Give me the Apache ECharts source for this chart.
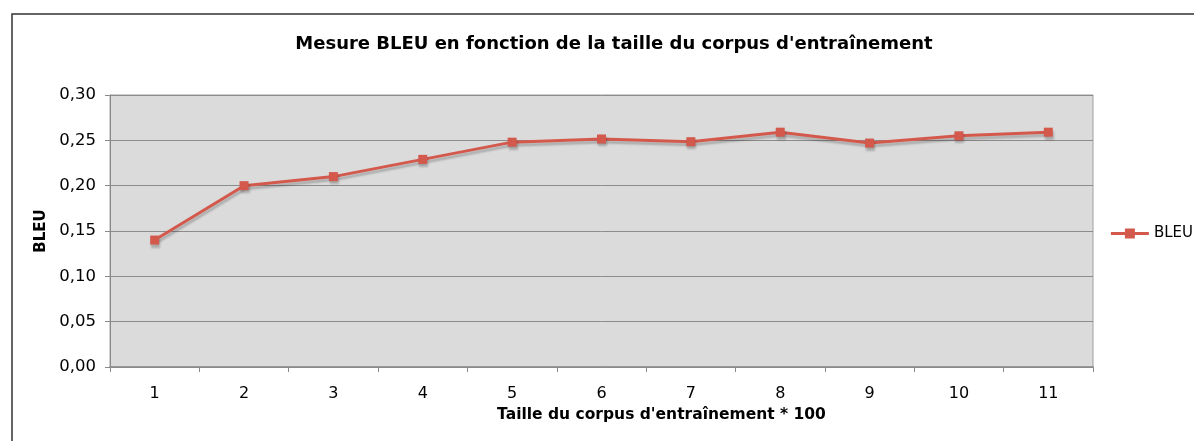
<!DOCTYPE html>
<html>
<head>
<meta charset="utf-8">
<script src="https://cdn.jsdelivr.net/npm/echarts@6/dist/echarts.min.js"></script>
<style>
  html, body { margin: 0; padding: 0; background: #ffffff; }
  #chart { width: 1194px; height: 441px; }
</style>
</head>
<body>
<div id="chart"></div>
<script>
// Corpus sizes (in hundreds) and the BLEU score measured for each
const categories = ['1', '2', '3', '4', '5', '6', '7', '8', '9', '10', '11'];
const bleuValues = [0.14, 0.20, 0.21, 0.229, 0.248, 0.2515, 0.2485, 0.259, 0.247, 0.255, 0.259];
const seriesName = 'BLEU';
const chartTitle = "Mesure BLEU en fonction de la taille du corpus d'entraînement";
const xAxisTitle = "Taille du corpus d'entraînement * 100";
const yAxisTitle = 'BLEU';

const FONT = '"DejaVu Sans", sans-serif';
const RED = '#d4594d';

const chart = echarts.init(document.getElementById('chart'), null, { renderer: 'canvas' });

chart.setOption({
  animation: false,
  backgroundColor: '#ffffff',
  textStyle: { fontFamily: FONT },
  title: {
    text: chartTitle,
    left: 609,
    top: 30,
    textAlign: 'center',
    textStyle: { fontFamily: FONT, fontSize: 18, fontWeight: 'bold', color: '#000' }
  },
  legend: {
    data: [seriesName],
    right: -4,
    top: 221,
    orient: 'vertical',
    itemWidth: 38,
    itemHeight: 10,
    itemGap: 6,
    textStyle: { fontFamily: FONT, fontSize: 15, color: '#000', padding: [0, 0, 0, 0] },
    icon: 'path://M0,3.5H14V0H24V3.5H38V6.5H24V10H14V6.5H0Z'
  },
  graphic: [{
    type: 'rect',
    shape: { x: 12, y: 14, width: 1400, height: 600 },
    style: { fill: 'none', stroke: '#333333', lineWidth: 1.5 },
    silent: true,
    z: -10
  }],
  grid: {
    left: 110, top: 95, right: 101, bottom: 74,
    show: true,
    backgroundColor: '#dadbda',
    borderColor: '#9e9e9e',
    borderWidth: 1,
    containLabel: false
  },
  xAxis: {
    type: 'category',
    data: categories,
    boundaryGap: true,
    name: xAxisTitle,
    nameLocation: 'middle',
    nameGap: 39,
    nameTextStyle: { fontFamily: FONT, fontSize: 15.5, fontWeight: 'bold', color: '#000', padding: [0, 0, 0, 120] },
    axisLine: { show: true, lineStyle: { color: '#8a8a8a', width: 1.5 } },
    axisTick: { show: true, length: 5, lineStyle: { color: '#8a8a8a' } },
    axisLabel: { fontFamily: FONT, fontSize: 16, color: '#000', margin: 19 },
    splitLine: { show: false }
  },
  yAxis: {
    type: 'value',
    min: 0,
    max: 0.30,
    interval: 0.05,
    name: yAxisTitle,
    nameLocation: 'middle',
    nameGap: 57,
    nameRotate: 90,
    nameTextStyle: { fontFamily: FONT, fontSize: 15, fontWeight: 'bold', color: '#000' },
    axisLine: { show: true, lineStyle: { color: '#8a8a8a' } },
    axisTick: { show: true, length: 5, lineStyle: { color: '#8a8a8a' } },
    axisLabel: {
      fontFamily: FONT, fontSize: 16.5, color: '#000', margin: 14,
      formatter: v => v.toFixed(2).replace('.', ',')
    },
    splitLine: { show: true, lineStyle: { color: '#8c8c8c', width: 1 } }
  },
  series: [{
    name: seriesName,
    type: 'line',
    data: bleuValues,
    symbol: 'rect',
    symbolSize: 9,
    showSymbol: true,
    lineStyle: {
      color: RED, width: 3,
      shadowColor: 'rgba(0,0,0,0.22)', shadowBlur: 2, shadowOffsetY: 3, shadowOffsetX: 1
    },
    itemStyle: {
      color: RED,
      shadowColor: 'rgba(0,0,0,0.22)', shadowBlur: 2, shadowOffsetY: 3, shadowOffsetX: 1
    },
    emphasis: { disabled: true }
  }]
});
</script>
</body>
</html>
